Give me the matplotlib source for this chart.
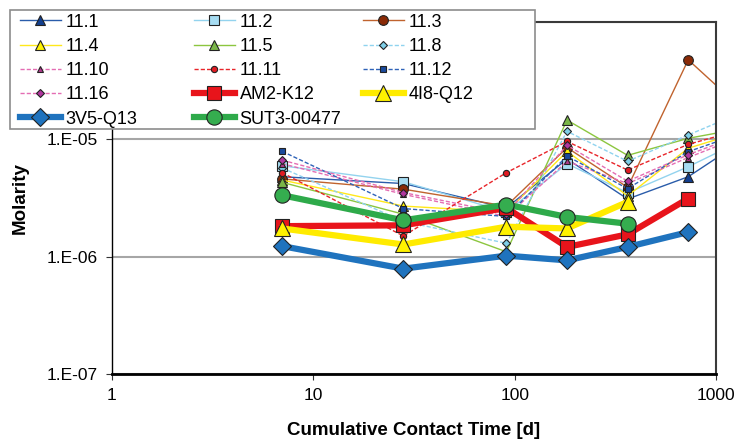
import numpy as np
import matplotlib
matplotlib.use("Agg")
import matplotlib.pyplot as plt
from matplotlib.patches import Rectangle
from matplotlib.ticker import FixedLocator, FuncFormatter, NullLocator

plt.rcParams['font.family'] = ['Liberation Sans', 'DejaVu Sans']

# contact times in days
days = [7, 28, 91, 182, 364, 728, 1092]

s11_1 = [4.8e-6, 4.2e-6, 2.6e-6, 6.8e-6, 3.1e-6, 4.8e-6, 7.6e-6]
s11_2 = [5.95e-6, 4.35e-6, 2.4e-6, 6.2e-6, 3.5e-6, 5.84e-6, 8.2e-6]
s11_3 = [4.6e-6, 3.76e-6, 2.7e-6, 8.5e-6, 3.9e-6, 4.76e-5, 2.52e-5]
s11_4 = [4.5e-6, 2.7e-6, 2.4e-6, 7.9e-6, 3.3e-6, 8.4e-6, 1.04e-5]
s11_5 = [4.3e-6, 2.3e-6, 1.1e-6, 1.46e-5, 7.3e-6, 1.02e-5, 1.16e-5]
s11_8 = [5.7e-6, 2.0e-6, 1.3e-6, 1.17e-5, 6.5e-6, 1.09e-5, 1.46e-5]
s11_10 = [6.2e-6, 3.4e-6, 2.2e-6, 6.5e-6, 4.2e-6, 7.0e-6, 9.2e-6]
s11_11 = [5.2e-6, 1.5e-6, 5.2e-6, 9.6e-6, 5.47e-6, 9.06e-6, 1.1e-5]
s11_12 = [7.9e-6, 2.57e-6, 2.2e-6, 7.2e-6, 3.8e-6, 7.85e-6, 1.0e-5]
s11_16 = [6.65e-6, 3.52e-6, 2.33e-6, 8.9e-6, 4.4e-6, 7.4e-6, 9.6e-6]
am2_k12 = [1.82e-6, 1.85e-6, 2.6e-6, 1.21e-6, 1.55e-6, 3.13e-6]
i8_q12 = [1.74e-6, 1.27e-6, 1.80e-6, 1.74e-6, 2.93e-6]
v5_q13 = [1.23e-6, 7.9e-7, 1.02e-6, 0.93e-6, 1.21e-6, 1.62e-6]
sut3 = [3.34e-6, 2.04e-6, 2.78e-6, 2.18e-6, 1.91e-6]

# (label, values, line colour, marker, marker fill, linestyle, linewidth, markersize)
series = [
    ("11.1", s11_1, "#2a5caa", "^", "#123f8f", "-", 1.0, 7),
    ("11.2", s11_2, "#93d3ee", "s", "#a6dcf2", "-", 1.0, 7),
    ("11.3", s11_3, "#c0632e", "o", "#8a2a06", "-", 1.0, 7),
    ("11.4", s11_4, "#ffe81a", "^", "#fff200", "-", 1.0, 7),
    ("11.5", s11_5, "#8cc63f", "^", "#7ab648", "-", 1.0, 7),
    ("11.8", s11_8, "#8fd3ef", "D", "#7fcfe8", "--", 1.0, 4),
    ("11.10", s11_10, "#e46db3", "^", "#b03a8c", "--", 1.0, 4.5),
    ("11.11", s11_11, "#e8252a", "o", "#e11b22", "--", 1.0, 4.5),
    ("11.12", s11_12, "#2f63b8", "s", "#1a4a9c", "--", 1.0, 4.5),
    ("11.16", s11_16, "#e46db3", "D", "#b0369e", "--", 1.0, 4),
    ("AM2-K12", am2_k12, "#e8141b", "s", "#e8141b", "-", 4.5, 10),
    ("4I8-Q12", i8_q12, "#ffeb00", "^", "#fff200", "-", 4.5, 11),
    ("3V5-Q13", v5_q13, "#1f73be", "D", "#1f73be", "-", 4.5, 9),
    ("SUT3-00477", sut3, "#2eaa4a", "o", "#35ad4f", "-", 4.5, 11),
]

W, H = 738, 447
fig = plt.figure(figsize=(W / 100, H / 100), dpi=100)
ax = fig.add_axes([112 / W, 73 / H, 604 / W, 352 / H])

handles = {}
for label, vals, col, mk, fill, ls, lw, ms in series:
    line, = ax.plot(days[:len(vals)], vals, color=col, linestyle=ls, linewidth=lw,
                    marker=mk, markersize=ms, markerfacecolor=fill,
                    markeredgecolor="#222222", markeredgewidth=0.8,
                    dashes=(3, 1.5) if ls == "--" else (None, None), label=label)
    handles[label] = line

ax.set_xscale("log")
ax.set_yscale("log")
ax.set_xlim(1, 1000)
ax.set_ylim(1e-7, 1e-4)


def sci_label(v, p):
    # top label sits under the legend box, leave it blank
    if v >= 1e-4:
        return ""
    return f"1.E{int(round(np.log10(v))):+03d}"


ax.xaxis.set_major_locator(FixedLocator([1, 10, 100, 1000]))
ax.xaxis.set_major_formatter(FuncFormatter(lambda v, p: f"{v:g}"))
ax.xaxis.set_minor_locator(NullLocator())
ax.yaxis.set_major_locator(FixedLocator([1e-7, 1e-6, 1e-5, 1e-4]))
ax.yaxis.set_major_formatter(FuncFormatter(sci_label))
ax.yaxis.set_minor_locator(NullLocator())
ax.tick_params(axis="both", direction="out", length=4, labelsize=12.5, pad=6,
               color="#333333")

ax.yaxis.grid(True, color="#a6a6a6", linewidth=1.5)
ax.set_axisbelow(True)
for side in ["top", "right"]:
    ax.spines[side].set_color("#3a3a3a")
    ax.spines[side].set_linewidth(1.5)
ax.spines["left"].set_linewidth(1.0)
ax.spines["bottom"].set_linewidth(2.0)

ax.set_xlabel("Cumulative Contact Time [d]", fontsize=13.5, fontweight="bold", labelpad=14)
ax.set_ylabel("Molarity", fontsize=13.5, fontweight="bold", labelpad=13)

# legend box, drawn as one frame with three single-column legends inside
fig.patches.append(Rectangle((10 / W, 1 - 129 / H), 525 / W, 119 / H,
                             transform=fig.transFigure, facecolor="white",
                             edgecolor="#8c8c8c", linewidth=1.2, zorder=2))
columns = [
    (["11.1", "11.4", "11.10", "11.16", "3V5-Q13"], 16),
    (["11.2", "11.5", "11.11", "AM2-K12", "SUT3-00477"], 190),
    (["11.3", "11.8", "11.12", "4I8-Q12"], 359),
]
for labels, x0 in columns:
    leg = fig.legend([handles[k] for k in labels], labels, loc="upper left",
                     bbox_to_anchor=(x0 / W, 1 - 10 / H), fontsize=13,
                     frameon=False, borderaxespad=0, borderpad=0.2,
                     handlelength=2.3, handletextpad=0.25, labelspacing=0.40)
    leg.set_zorder(3)

fig.savefig("out.png", dpi=100)
